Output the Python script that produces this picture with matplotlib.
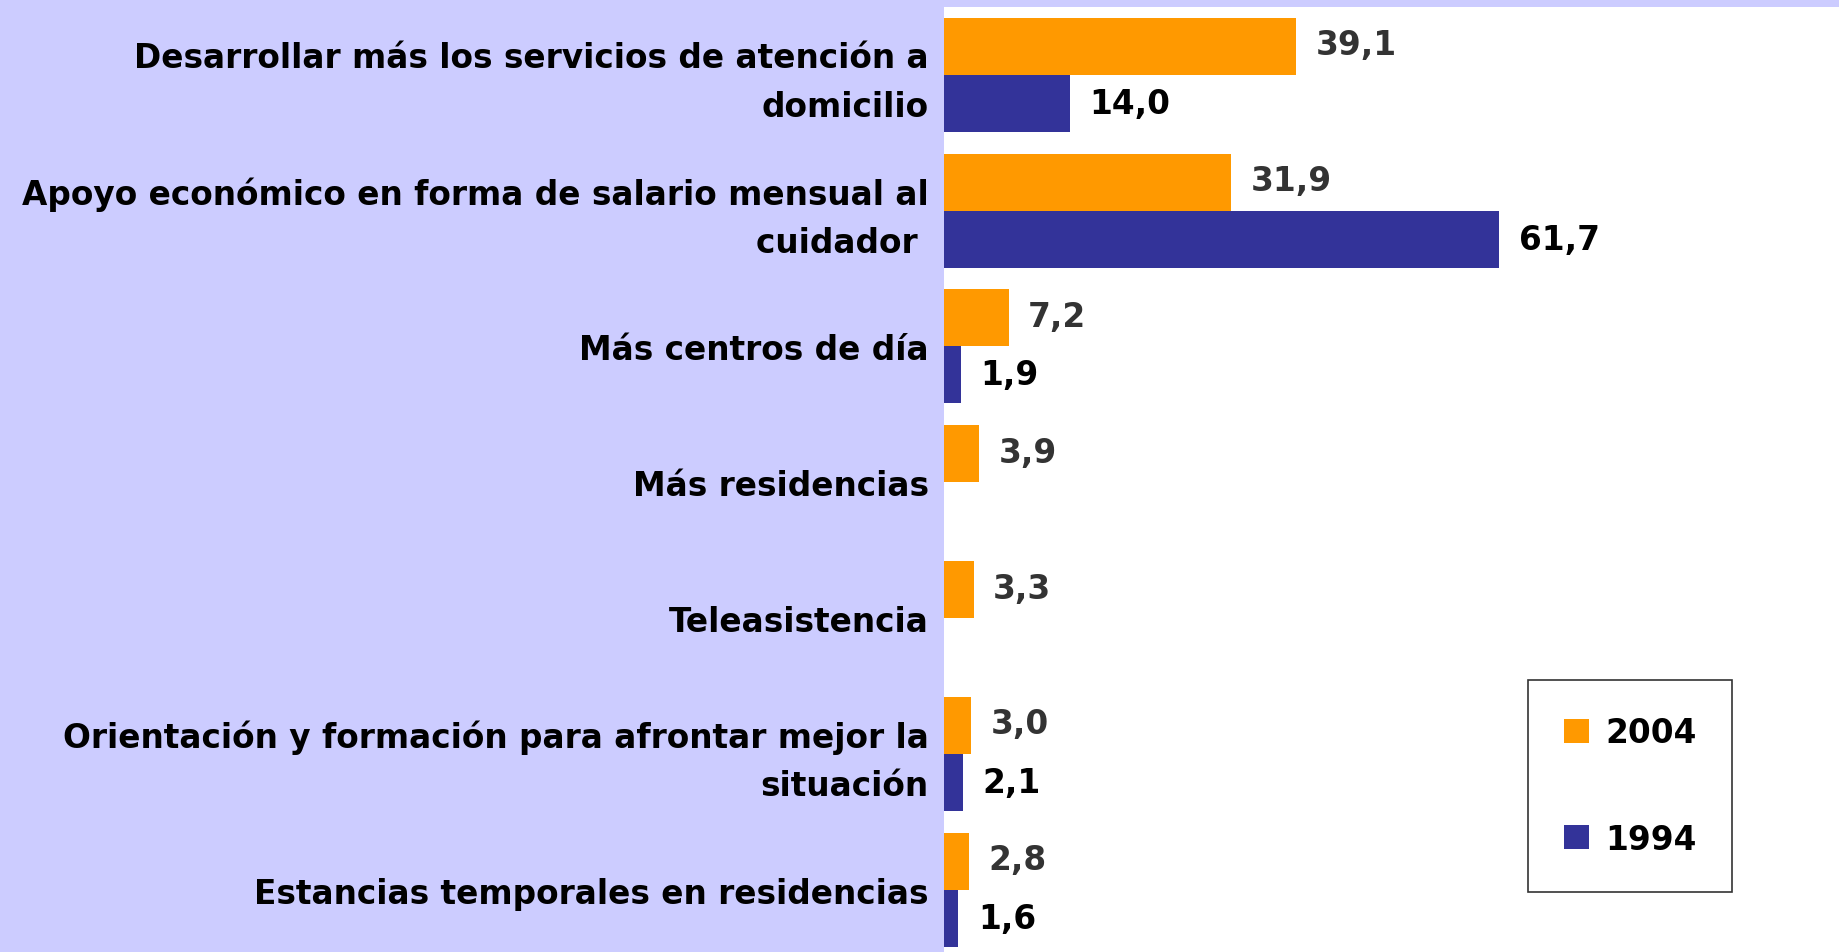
import matplotlib
matplotlib.use('Agg')
import matplotlib.pyplot as plt
import matplotlib.transforms as mtransforms
from matplotlib.patches import Patch
import numpy as np

categories = [
    'Desarrollar más los servicios de atención a\ndomicilio',
    'Apoyo económico en forma de salario mensual al\ncuidador ',
    'Más centros de día',
    'Más residencias',
    'Teleasistencia',
    'Orientación y formación para afrontar mejor la\nsituación',
    'Estancias temporales en residencias',
]
values_2004 = [39.1, 31.9, 7.2, 3.9, 3.3, 3.0, 2.8]
values_1994 = [14.0, 61.7, 1.9, None, None, 2.1, 1.6]
series_labels = ['2004', '1994']

orange = '#FF9900'
blue = '#333399'
lavender = '#CCCCFF'

plt.rcParams['font.family'] = ['DejaVu Sans']
fs = 23.6

fig = plt.figure(figsize=(18.39, 9.53), dpi=100, facecolor=lavender)
ax = fig.add_axes([944 / 1839, 0, 1 - 944 / 1839, 1 - 8 / 953])
ax.set_facecolor('white')

y = np.arange(len(categories))
h = 0.42
v94 = [np.nan if v is None else v for v in values_1994]

ax.barh(y - h / 2, values_2004, h, color=orange, label=series_labels[0])
ax.barh(y + h / 2, v94, h, color=blue, label=series_labels[1])

# value labels, decimal comma
for i, v in enumerate(values_2004):
    ax.annotate(f'{v:.1f}'.replace('.', ','), (v, i - h / 2), xytext=(14, 1),
                textcoords='offset points', va='center', ha='left',
                fontsize=fs, fontweight='bold', color='#333333')
for i, v in enumerate(values_1994):
    if v is None:
        continue
    ax.annotate(f'{v:.1f}'.replace('.', ','), (v, i + h / 2), xytext=(14, 0),
                textcoords='offset points', va='center', ha='left',
                fontsize=fs, fontweight='bold', color='black')

ax.set_xlim(0, 895 / 9.0)
ax.set_ylim(6.46, -0.5)
ax.set_xticks([])
ax.set_yticks(y)
ax.set_yticklabels(categories, fontsize=fs, fontweight='bold', ha='right',
                   linespacing=1.6)
ax.tick_params(axis='y', length=0, pad=11)
# two-line labels sit a little higher in the original
up = mtransforms.ScaledTranslation(0, 3 / 72, fig.dpi_scale_trans)
for lbl, cat in zip(ax.get_yticklabels(), categories):
    if '\n' in cat:
        lbl.set_transform(lbl.get_transform() + up)
for s in ax.spines.values():
    s.set_visible(False)

handles = [Patch(facecolor=orange), Patch(facecolor=blue)]
leg = ax.legend(handles, series_labels, loc='upper left',
                bbox_to_anchor=(1528 / 1839, 1 - 681 / 953),
                bbox_transform=fig.transFigure, borderaxespad=0,
                prop={'size': fs, 'weight': 'bold'}, frameon=True,
                fancybox=False, edgecolor='black', borderpad=1.1,
                labelspacing=2.25, handlelength=0.75, handleheight=0.75,
                handletextpad=0.5)
leg.get_frame().set_linewidth(1.2)

plt.savefig('out.png', dpi=100, facecolor=lavender)
